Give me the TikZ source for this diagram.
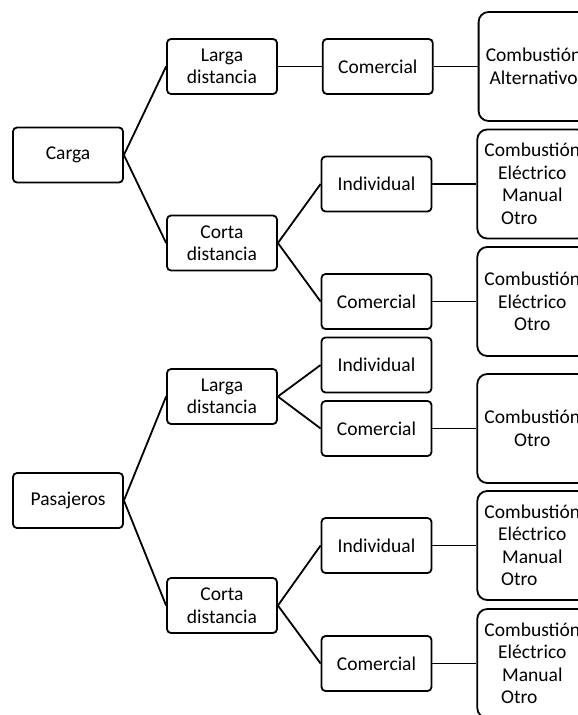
\documentclass[tikz,border=0pt]{standalone}
\usepackage{fontspec}
\setmainfont{Carlito}
\usetikzlibrary{positioning}

\begin{document}
\begin{tikzpicture}[
    x=1bp, y=-1bp,
    node distance=44bp,
    box/.style={rectangle, draw, rounded corners=4bp, line width=1.8bp, minimum width=110bp, minimum height=55bp, inner sep=0pt, align=center, font=\fontsize{19.6}{22.6}\selectfont},
    tall/.style={box, rounded corners=10bp, minimum height=109bp},
    link/.style={line width=1.8bp}
]
\useasboundingbox (0,0) rectangle (578,715);

\node[box] (carga) at (68,155) {Carga};
\node[box] (cargaLarga) at (222,66.5) {Larga\\distancia};
\node[box] (cargaCorta) at (222,243) {Corta\\distancia};
\node[box, right=of cargaLarga] (cargaLargaCom) {Comercial};
\node[box] (cargaCortaInd) at (376.5,184) {Individual};
\node[box] (cargaCortaCom) at (376.5,301.5) {Comercial};

\node[box] (pasajeros) at (68,500.5) {Pasajeros};
\node[box] (pasLarga) at (222,396.5) {Larga\\distancia};
\node[box] (pasCorta) at (222,605.5) {Corta\\distancia};
\node[box] (pasLargaInd) at (376.5,365) {Individual};
\node[box] (pasLargaCom) at (376.5,428.5) {Comercial};
\node[box] (pasCortaInd) at (376.5,545.5) {Individual};
\node[box] (pasCortaCom) at (376.5,663.5) {Comercial};

\node[tall, right=of cargaLargaCom] (motorCLC) {Combustión\\Alternativo};
\node[tall, right=of cargaCortaInd] (motorCCI) {Combustión\\Eléctrico\\Manual\\Otro\hspace*{26bp}};
\node[tall, right=of cargaCortaCom] (motorCCC) {Combustión\\Eléctrico\\Otro};
\node[tall, right=of pasLargaCom] (motorPLC) {Combustión\\Otro};
\node[tall, right=of pasCortaInd] (motorPCI) {Combustión\\Eléctrico\\Manual\\Otro\hspace*{26bp}};
\node[tall, right=of pasCortaCom] (motorPCC) {Combustión\\Eléctrico\\Manual\\Otro\hspace*{26bp}};

\draw[link] (carga.east) -- (cargaLarga.west);
\draw[link] (carga.east) -- (cargaCorta.west);
\draw[link] (cargaLarga) -- (cargaLargaCom);
\draw[link] (cargaCorta.east) -- (cargaCortaInd.west);
\draw[link] (cargaCorta.east) -- (cargaCortaCom.west);
\draw[link] (cargaLargaCom) -- (motorCLC);
\draw[link] (cargaCortaInd) -- (motorCCI);
\draw[link] (cargaCortaCom) -- (motorCCC);

\draw[link] (pasajeros.east) -- (pasLarga.west);
\draw[link] (pasajeros.east) -- (pasCorta.west);
\draw[link] (pasLarga.east) -- (pasLargaInd.west);
\draw[link] (pasLarga.east) -- (pasLargaCom.west);
\draw[link] (pasCorta.east) -- (pasCortaInd.west);
\draw[link] (pasCorta.east) -- (pasCortaCom.west);
\draw[link] (pasLargaCom) -- (motorPLC);
\draw[link] (pasCortaInd) -- (motorPCI);
\draw[link] (pasCortaCom) -- (motorPCC);
\end{tikzpicture}
\end{document}
